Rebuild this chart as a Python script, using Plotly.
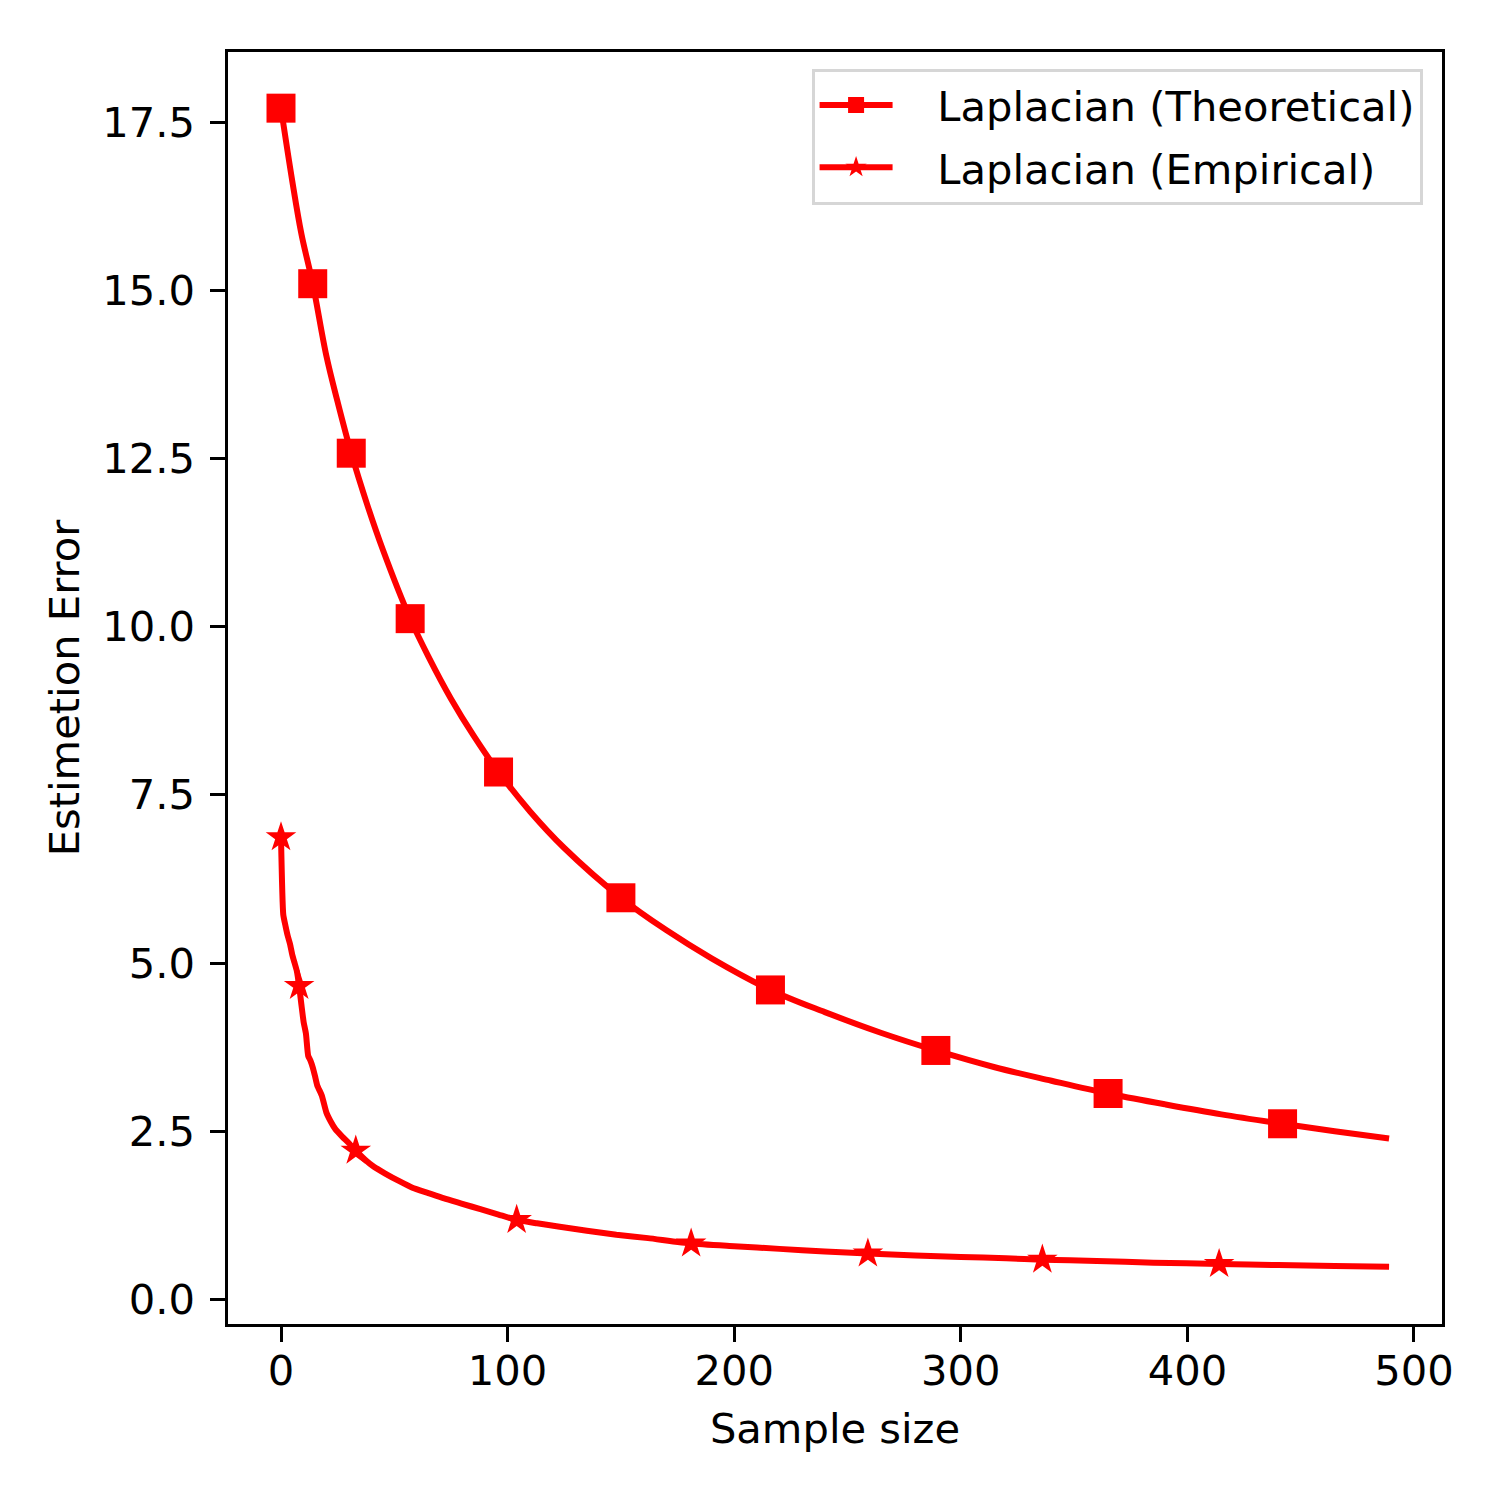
import plotly.graph_objects as go

# ---------------- data ----------------
x_theo = [0, 5, 9, 14, 20, 25, 31, 38, 45, 57, 65, 75, 85, 96, 110, 125, 150,
          170, 190, 216, 240, 265, 289, 315, 340, 365, 390, 415, 442, 465, 489]
y_theo = [17.71, 16.62, 15.84, 15.10, 14.03, 13.34, 12.58, 11.82, 11.14, 10.12,
          9.56, 8.93, 8.38, 7.84, 7.25, 6.71, 5.97, 5.49, 5.07, 4.60, 4.27, 3.96,
          3.70, 3.45, 3.25, 3.06, 2.90, 2.75, 2.61, 2.50, 2.39]
theo_marker_x = [0, 14, 31, 57, 96, 150, 216, 289, 365, 442]

x_emp = [0, 1, 2, 3, 4, 5, 6, 7, 8, 9, 10, 11, 12, 13, 14, 15, 16, 18, 20, 22,
         24, 27, 30, 33, 37, 41, 46, 52, 58, 65, 72, 80, 88, 96, 104, 113, 123,
         135, 148, 162, 181, 200, 220, 240, 259, 280, 300, 320, 336, 360, 385,
         414, 440, 465, 489]
y_emp = [6.87, 5.72, 5.55, 5.40, 5.28, 5.12, 5.00, 4.88, 4.66, 4.38, 4.12, 3.95,
         3.62, 3.55, 3.45, 3.32, 3.18, 3.03, 2.78, 2.64, 2.53, 2.42, 2.32, 2.21,
         2.08, 1.97, 1.87, 1.76, 1.66, 1.58, 1.50, 1.42, 1.34, 1.26, 1.18, 1.13,
         1.08, 1.02, 0.96, 0.91, 0.83, 0.79, 0.75, 0.71, 0.68, 0.65, 0.63, 0.61,
         0.59, 0.57, 0.545, 0.525, 0.51, 0.497, 0.485]
emp_marker_x = [0, 8, 33, 104, 181, 259, 336, 414]

series_names = ["Laplacian (Theoretical)", "Laplacian (Empirical)"]
x_ticks = [0, 100, 200, 300, 400, 500]
y_ticks = [0.0, 2.5, 5.0, 7.5, 10.0, 12.5, 15.0, 17.5]

RED = "#ff0000"
FONT = "DejaVu Sans"
FS = 41.67
PAD = "\u00a0\u00a0\u00a0"   # gap between legend sample and label

def subset(xs, ys, keep):
    pairs = [(a, b) for a, b in zip(xs, ys) if a in keep]
    return [p[0] for p in pairs], [p[1] for p in pairs]

fig = go.Figure()

specs = [
    (x_theo, y_theo, theo_marker_x, "square", 29, "spline", 1.0),
    (x_emp, y_emp, emp_marker_x, "star", 23, "spline", 0.5),
]
for i, (xs, ys, mk, sym, msz, shp, sm) in enumerate(specs):
    grp = "g%d" % i
    fig.add_trace(go.Scatter(x=xs, y=ys, mode="lines", showlegend=False,
                             legendgroup=grp, hoverinfo="skip",
                             line=dict(color=RED, width=6, shape=shp, smoothing=sm)))
    mx, my = subset(xs, ys, mk)
    fig.add_trace(go.Scatter(x=mx, y=my, mode="markers", showlegend=False,
                             legendgroup=grp,
                             marker=dict(symbol=sym, size=msz, color=RED,
                                         line=dict(width=0))))
    fig.add_trace(go.Scatter(x=[None], y=[None], mode="lines+markers",
                             name=PAD + series_names[i], legendgroup=grp,
                             line=dict(color=RED, width=6),
                             marker=dict(symbol=sym, size=16, color=RED)))

axis_common = dict(
    showline=True, linecolor="black", linewidth=3.3, mirror=True,
    ticks="outside", ticklen=14.6, tickwidth=3.3, tickcolor="black",
    showgrid=False, zeroline=False,
    tickfont=dict(family=FONT, size=FS, color="black"),
)

fig.update_layout(
    width=1500, height=1500,
    paper_bgcolor="white", plot_bgcolor="white",
    margin=dict(l=228, r=58, t=52, b=176),
    font=dict(family=FONT, size=FS, color="black"),
    xaxis=dict(range=[-23.39, 512.36], tickvals=x_ticks,
               ticktext=[str(v) for v in x_ticks],
               title=dict(text="Sample size", font=dict(family=FONT, size=FS), standoff=21),
               ticklabelstandoff=-7,
               **axis_common),
    yaxis=dict(range=[-0.367, 18.545], tickvals=y_ticks,
               ticktext=["%.1f" % v for v in y_ticks],
               title=dict(text="Estimetion Error", font=dict(family=FONT, size=FS), standoff=10),
               ticklabelstandoff=7,
               **axis_common),
    legend=dict(x=0.984, y=0.987, xanchor="right", yanchor="top",
                bgcolor="white", bordercolor="#d6d6d6", borderwidth=3,
                font=dict(family=FONT, size=FS, color="black"),
                traceorder="grouped", tracegroupgap=5, itemwidth=73),
)

fig.write_html("out.html")
